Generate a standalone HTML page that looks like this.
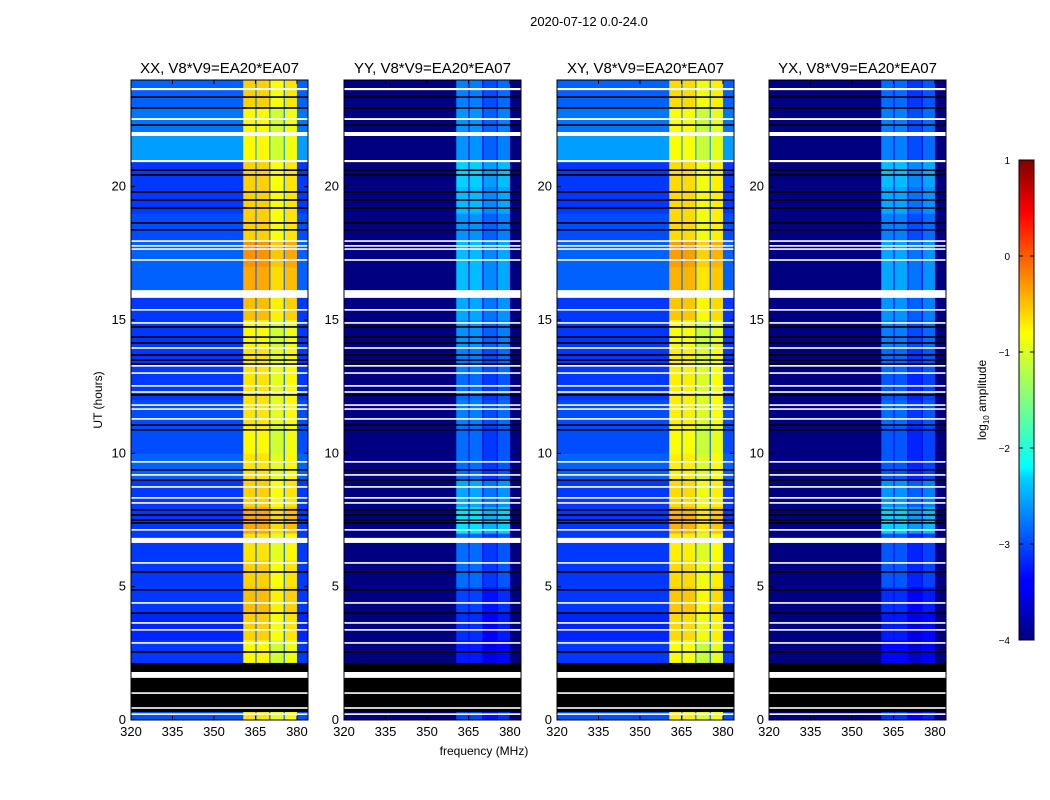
<!DOCTYPE html>
<html><head><meta charset="utf-8"><style>
body{margin:0;background:#fff;}
svg{display:block;font-family:"Liberation Sans","DejaVu Sans",sans-serif;}
</style></head><body>
<svg id="fig" width="1050" height="800">
<defs><linearGradient id="jet" x1="0" y1="1" x2="0" y2="0">
<stop offset="0" stop-color="#00007f"/><stop offset="0.11" stop-color="#0000ff"/><stop offset="0.125" stop-color="#0000ff"/>
<stop offset="0.34" stop-color="#00d4ff"/><stop offset="0.36" stop-color="#0ff"/><stop offset="0.5" stop-color="#7fff7f"/>
<stop offset="0.64" stop-color="#ff0"/><stop offset="0.66" stop-color="#ffea00"/><stop offset="0.89" stop-color="#f00"/><stop offset="1" stop-color="#7f0000"/>
</linearGradient></defs>
<text x="589" y="26" font-size="13" text-anchor="middle">2020-07-12 0.0-24.0</text>
<text x="484" y="755" font-size="12" text-anchor="middle">frequency (MHz)</text>
<text x="102" y="400" font-size="12" text-anchor="middle" transform="rotate(-90 102 400)">UT (hours)</text>
<g id="panels"></g>
<g>
<rect x="1019" y="160" width="15" height="480" fill="url(#jet)" stroke="#000" stroke-width="1"/>
<g id="cbticks"></g>
<text x="986" y="400" font-size="12" text-anchor="middle" transform="rotate(-90 986 400)">log<tspan font-size="8" dy="3">10</tspan><tspan dy="-3"> amplitude</tspan></text>
</g>
</svg>
<script>
const NS="http://www.w3.org/2000/svg";
// ---- data ----
const panelTitles=["XX, V8*V9=EA20*EA07","YY, V8*V9=EA20*EA07","XY, V8*V9=EA20*EA07","YX, V8*V9=EA20*EA07"];
const xTicks=[320,335,350,365,380];
const yTicks=[0,5,10,15,20];
const cbTicks=[1,0,-1,-2,-3,-4];
// frequency column edges (MHz) and column kinds: 0=background,1..4=bright strips,5=gap
const colEdges=[320,360.6,365,365.4,370,370.4,375.2,375.6,380,384];
const colKind=[0,1,5,2,5,3,5,4,0];
// hourly levels (log10 amplitude), hour 0..23
const bgXX=[-3.0,-3.1,-3.1,-3.2,-3.1,-3.1,-3.1,-3.1,-3.1,-2.9,-3.0,-3.0,-3.1,-3.1,-3.1,-3.1,-2.9,-2.9,-3.0,-3.1,-3.1,-2.6,-2.8,-2.9];
const bandXX=[-0.8,-0.8,-0.9,-0.7,-0.6,-0.7,-0.8,-0.5,-0.7,-0.8,-0.9,-0.8,-0.8,-0.8,-0.9,-0.6,-0.5,-0.4,-0.7,-0.7,-0.7,-0.9,-0.9,-0.7];
const bgYY=[-4,-4,-4,-4,-4,-4,-4,-4,-4,-4,-4,-4,-4,-4,-4,-4,-4,-4,-4,-4,-4,-4,-4,-4];
const bandYY=[-3.1,-3.1,-3.3,-3.2,-3.1,-2.9,-2.9,-2.3,-2.6,-2.9,-2.9,-2.8,-2.9,-2.8,-2.7,-2.6,-2.5,-2.5,-2.7,-2.5,-2.4,-2.7,-2.7,-2.8];
const bgXY=bgXX.slice(), bandXY=bandXX.map(v=>v-0.05);
const bgYX=bgYY.slice(), bandYX=bandYY.map(v=>v-0.1);
const stripOffset=[0,0.05,0.05,-0.2,-0.05];
const gapLevel=-2.9;
// flagged rows (hours): white = NaN, black = zero
const whiteRows=[[23.62,23.7],[22.5,22.57],[21.9,22.05],[20.92,21.0],[17.93,17.99],[17.75,17.81],[17.63,17.69],[17.22,17.28],[15.83,16.12],[15.35,15.41],[14.86,14.92],[13.92,13.98],[13.25,13.31],[12.98,13.04],[12.5,12.56],[12.27,12.33],[11.78,11.84],[11.63,11.69],[11.26,11.32],[9.65,9.71],[9.16,9.22],[8.71,8.77],[8.3,8.36],[8.11,8.17],[7.1,7.16],[6.64,6.83],[5.86,5.92],[4.36,4.42],[3.61,3.67],[3.35,3.41],[2.86,2.92],[1.58,1.8],[0.98,1.04],[0.42,0.48],[0.19,0.25]];
const blackRows=[[23.33,23.39],[22.92,22.98],[22.28,22.34],[20.59,20.65],[20.41,20.47],[19.77,19.83],[19.47,19.53],[19.17,19.23],[18.61,18.67],[18.35,18.41],[14.71,14.77],[14.33,14.39],[14.11,14.17],[13.66,13.72],[13.47,13.53],[13.32,13.38],[12.16,12.22],[11.03,11.09],[10.85,10.91],[9.35,9.41],[8.97,9.03],[7.85,7.91],[7.66,7.72],[7.47,7.53],[7.36,7.42],[5.52,5.58],[4.85,4.91],[3.98,4.04],[2.52,2.58],[0.3,2.14]];
const panelLeft=[131,344,557,769];
const panelBg=[bgXX,bgYY,bgXY,bgYX];
const panelBand=[bandXX,bandYY,bandXY,bandYX];
// ---- scales ----
const PW=177,TOP=80,BOT=720;
const yS=h=>BOT-(h/24)*(BOT-TOP);
const xS=(f,l)=>l+(f-320)/(384-320)*PW;
function jet(v){let t=(v+4)/5;t=Math.max(0,Math.min(1,t));
 const c=x=>Math.round(255*Math.max(0,Math.min(1,x)));
 return `rgb(${c(1.5-Math.abs(4*t-3))},${c(1.5-Math.abs(4*t-2))},${c(1.5-Math.abs(4*t-1))})`;}
function mk(tag,attrs,parent){const e=document.createElementNS(NS,tag);for(const k in attrs)e.setAttribute(k,attrs[k]);parent.appendChild(e);return e;}
const G=document.getElementById('panels');
panelLeft.forEach((L,p)=>{
 const g=mk('g',{},G);
 
 
 for(let h=0;h<24;h++){
  for(let c=0;c<colKind.length;c++){
   const k=colKind[c];
   const v=k===0?panelBg[p][h]:(k===5?Math.max(gapLevel+(p%2?-0.5:0),panelBg[p][h]):panelBand[p][h]+stripOffset[k]);
   const x0=xS(colEdges[c],L),x1=xS(colEdges[c+1],L);
   const r=mk('rect',{x:x0,y:yS(h+1),width:x1-x0+0.3,height:yS(h)-yS(h+1)+0.3,fill:jet(v)},g);
   
   
  }
 }
 blackRows.forEach(b=>{const r=mk('rect',{x:L,y:yS(b[1]),width:PW,height:Math.max(1,yS(b[0])-yS(b[1])),fill:'#000'},g);
  
  });
 whiteRows.forEach(b=>{const r=mk('rect',{x:L,y:yS(b[1]),width:PW,height:Math.max(1.5,yS(b[0])-yS(b[1])),fill:'#fff'},g);
  
  });
 const fr=mk('rect',{x:L,y:TOP,width:PW,height:BOT-TOP,fill:'none',stroke:'#000','stroke-width':1},g);
 
 
 const t=mk('text',{x:L+PW/2,y:73,'font-size':15,'text-anchor':'middle'},g);t.textContent=panelTitles[p];
 
 
 xTicks.forEach(f=>{const x=xS(f,L);
  mk('line',{x1:x,x2:x,y1:BOT,y2:BOT-4,stroke:'#000'},g);mk('line',{x1:x,x2:x,y1:TOP,y2:TOP+4,stroke:'#000'},g);
  const tt=mk('text',{x:x,y:BOT+16,'font-size':13,'text-anchor':'middle'},g);tt.textContent=f;
  
  });
 yTicks.forEach(h=>{const y=yS(h);
  mk('line',{x1:L,x2:L+4,y1:y,y2:y,stroke:'#000'},g);mk('line',{x1:L+PW,x2:L+PW-4,y1:y,y2:y,stroke:'#000'},g);
  const tt=mk('text',{x:L-5,y:y+4,'font-size':13,'text-anchor':'end'},g);tt.textContent=h;
  
  });
});
const CB=document.getElementById('cbticks');
cbTicks.forEach(v=>{const y=640-(v+4)/5*480;
 mk('line',{x1:1019,x2:1023,y1:y,y2:y,stroke:'#000'},CB);mk('line',{x1:1034,x2:1030,y1:y,y2:y,stroke:'#000'},CB);
 const t=mk('text',{x:1010,y:y+4,'font-size':10,'text-anchor':'end'},CB);t.textContent=(v<0?'\u2212'+(-v):v);
 
 });
</script>
</body></html>
